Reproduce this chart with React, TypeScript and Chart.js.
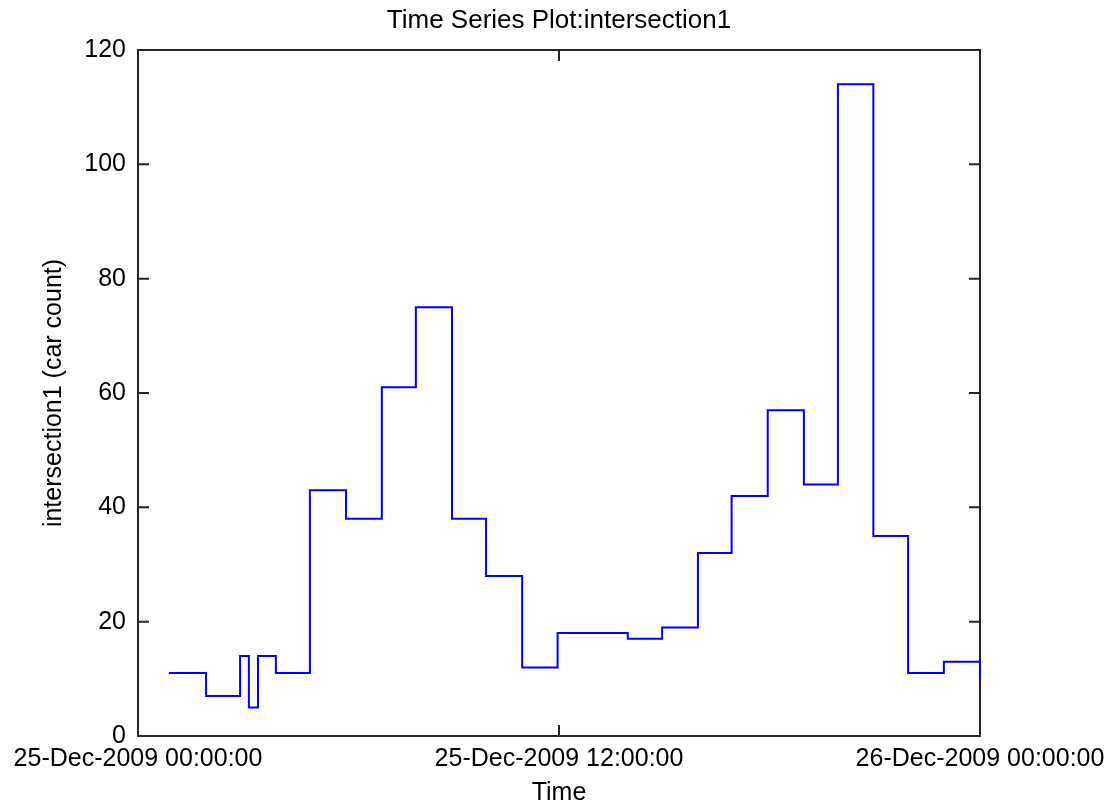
import React, { useEffect, useRef } from "react";
import { Chart, registerables } from "chart.js";

Chart.register(...registerables);

// Time in hours after 25-Dec-2009 00:00:00 at which each step starts
const stepHours: number[] = [
  0.88, 1.94, 2.91, 3.16, 3.42, 3.93, 4.9, 5.93, 6.95, 7.92, 8.95, 9.92, 10.95,
  11.96, 12.96, 13.96, 14.94, 15.96, 16.92, 17.95, 18.98, 19.95, 20.96, 21.95,
  22.97, 24.0,
];
// intersection1 car counts
const carCounts: number[] = [
  11, 7, 14, 5, 14, 11, 43, 38, 61, 75, 38, 28, 12, 18, 18, 17, 19, 32, 42, 57,
  44, 114, 35, 11, 13, 10,
];
const xTickHours: number[] = [0, 12, 24];
const xTickLabels: string[] = [
  "25-Dec-2009 00:00:00",
  "25-Dec-2009 12:00:00",
  "26-Dec-2009 00:00:00",
];
const yTickValues: number[] = [0, 20, 40, 60, 80, 100, 120];

const FONT = "'Liberation Sans', Arial, sans-serif";

const boxPlugin = {
  id: "matlabBox",
  beforeDatasetsDraw(chart: any) {
    const { ctx, chartArea, scales } = chart;
    const { left, right, top, bottom } = chartArea;
    const tl = 11;
    ctx.save();
    ctx.strokeStyle = "#262626";
    ctx.lineWidth = 2;
    ctx.strokeRect(left, top, right - left, bottom - top);
    ctx.beginPath();
    scales.y.ticks.forEach((t: any) => {
      const py = scales.y.getPixelForValue(t.value);
      ctx.moveTo(left, py);
      ctx.lineTo(left + tl, py);
      ctx.moveTo(right, py);
      ctx.lineTo(right - tl, py);
    });
    scales.x.ticks.forEach((t: any) => {
      const px = scales.x.getPixelForValue(t.value);
      ctx.moveTo(px, bottom);
      ctx.lineTo(px, bottom - tl);
      ctx.moveTo(px, top);
      ctx.lineTo(px, top + tl);
    });
    ctx.stroke();
    ctx.restore();
  },
};

export default function App() {
  const canvasRef = useRef<HTMLCanvasElement | null>(null);

  useEffect(() => {
    const canvas = canvasRef.current;
    if (!canvas) return;
    const chart = new Chart(canvas, {
      type: "line",
      data: {
        datasets: [
          {
            data: stepHours.map((h, i) => ({ x: h, y: carCounts[i] })),
            stepped: "before",
            borderColor: "#0000ff",
            borderWidth: 2,
            pointRadius: 0,
            fill: false,
            clip: 2,
          },
        ],
      },
      options: {
        animation: false,
        responsive: false,
        devicePixelRatio: 1,
        layout: { padding: { left: 0, right: 133, top: 0, bottom: 0 } },
        plugins: {
          legend: { display: false },
          tooltip: { enabled: false },
          title: {
            display: true,
            text: "Time Series Plot:intersection1",
            fullSize: false,
            color: "#000",
            font: { family: FONT, size: 26, weight: "normal", lineHeight: 1 },
            padding: { top: 8, bottom: 16 },
          },
        },
        scales: {
          x: {
            type: "linear",
            min: 0,
            max: 24,
            grid: { display: false },
            border: { display: false },
            afterBuildTicks: (scale: any) => {
              scale.ticks = xTickHours.map((v) => ({ value: v }));
            },
            afterFit: (scale: any) => {
              scale.height = 67;
            },
            ticks: {
              color: "#000",
              padding: 0,
              maxRotation: 0,
              autoSkip: false,
              font: { family: FONT, size: 25 },
              callback: (value: any) => {
                const idx = xTickHours.indexOf(Number(value));
                return idx >= 0 ? xTickLabels[idx] : "";
              },
            },
            title: {
              display: true,
              text: "Time",
              color: "#000",
              font: { family: FONT, size: 25, lineHeight: 1 },
              padding: { top: 0, bottom: -2.5 },
            },
          },
          y: {
            min: 0,
            max: 120,
            grid: { display: false },
            border: { display: false },
            afterBuildTicks: (scale: any) => {
              scale.ticks = yTickValues.map((v) => ({ value: v }));
            },
            afterFit: (scale: any) => {
              scale.width = 138;
            },
            ticks: {
              color: "#000",
              padding: 4,
              font: { family: FONT, size: 25 },
            },
            title: {
              display: true,
              text: "intersection1 (car count)",
              color: "#000",
              font: { family: FONT, size: 25, lineHeight: 1 },
              padding: { top: 42, bottom: 0 },
            },
          },
        },
      },
      plugins: [boxPlugin],
    });
    return () => chart.destroy();
  }, []);

  return (
    <div
      style={{
        position: "absolute",
        left: 0,
        top: 0,
        width: 1113,
        height: 803,
        background: "#fff",
      }}
    >
      <canvas ref={canvasRef} width={1113} height={803} />
    </div>
  );
}
